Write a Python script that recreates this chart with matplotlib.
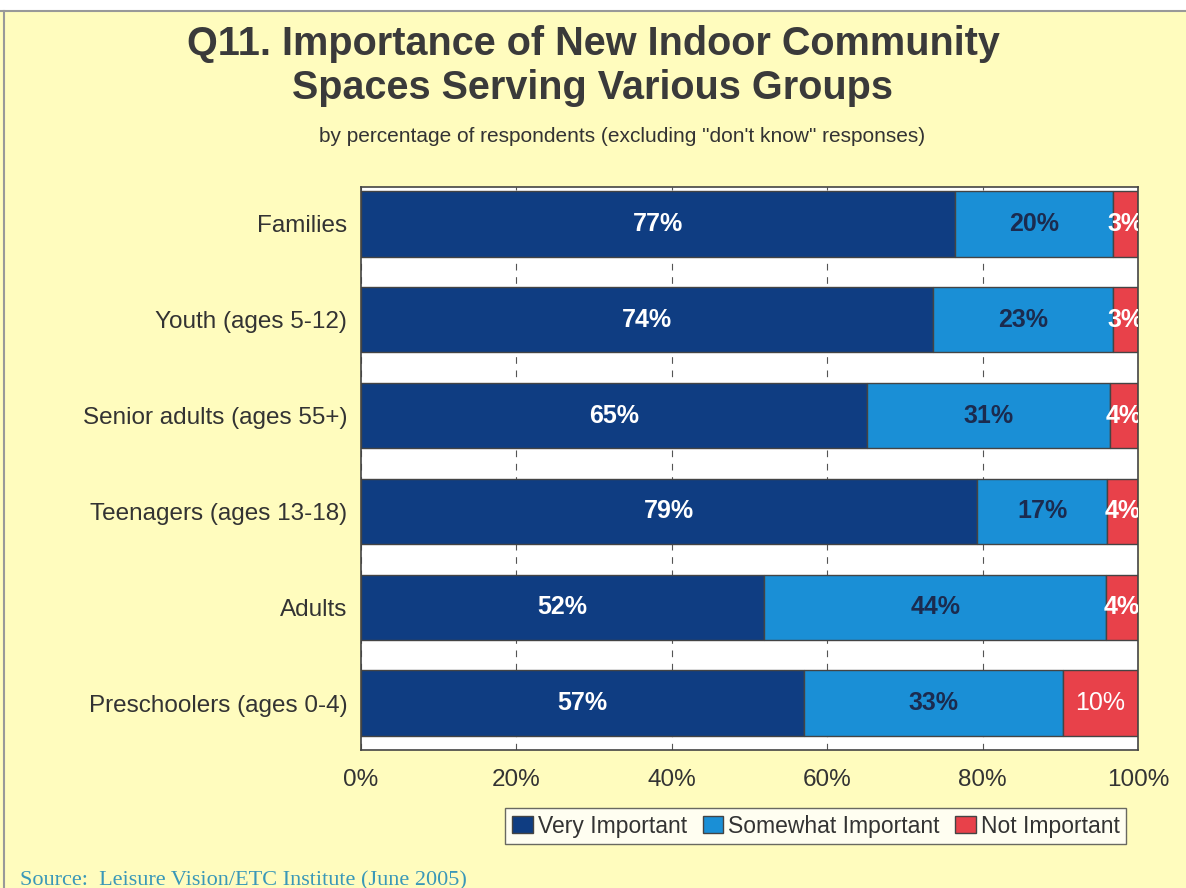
import numpy as np
from matplotlib import pyplot as plt
from matplotlib.patches import Rectangle

# data (percent of respondents)
groups = ['Families', 'Youth (ages 5-12)', 'Senior adults (ages 55+)',
          'Teenagers (ages 13-18)', 'Adults', 'Preschoolers (ages 0-4)']
very = [76.5, 73.6, 65.1, 79.3, 51.9, 57.0]
somewhat = [20.3, 23.2, 31.3, 16.7, 44.0, 33.3]
notimp = [3.2, 3.2, 3.6, 4.0, 4.1, 9.7]
very_lbl = ['77%', '74%', '65%', '79%', '52%', '57%']
some_lbl = ['20%', '23%', '31%', '17%', '44%', '33%']
not_lbl = ['3%', '3%', '4%', '4%', '4%', '10%']
series_names = ['Very Important', 'Somewhat Important', 'Not Important']
colors = ['#0F3D82', '#1A8FD6', '#E8414A']

plt.rcParams['font.family'] = ['Liberation Sans', 'DejaVu Sans']
bg = '#FFFCBE'

fig = plt.figure(figsize=(11.86, 8.88), dpi=100, facecolor=bg)
ax = fig.add_axes([0.3044, 0.1554, 0.6551, 0.634])
ax.set_facecolor('white')

y = np.arange(len(groups))
h = 0.68
ax.barh(y, very, height=h, color=colors[0], edgecolor='#444444', linewidth=1, label=series_names[0])
ax.barh(y, somewhat, left=very, height=h, color=colors[1], edgecolor='#444444', linewidth=1, label=series_names[1])
left2 = np.array(very) + np.array(somewhat)
ax.barh(y, notimp, left=left2, height=h, color=colors[2], edgecolor='#444444', linewidth=1, label=series_names[2])

for i in range(len(groups)):
    ax.text(very[i] / 2, y[i], very_lbl[i], ha='center', va='center', color='white',
            fontsize=18, fontweight='bold')
    ax.text(very[i] + somewhat[i] / 2, y[i], some_lbl[i], ha='center', va='center',
            color='#1B2B4F', fontsize=18, fontweight='bold')
    ax.text(left2[i] + notimp[i] / 2, y[i], not_lbl[i], ha='center', va='center',
            color='white', fontsize=18, fontweight='bold' if notimp[i] < 5 else 'normal',
            clip_on=True)

ax.set_xlim(0, 100)
ax.set_ylim(len(groups) - 1 + 0.49, -0.386)
ax.set_xticks([0, 20, 40, 60, 80, 100])
ax.set_xticklabels(['0%', '20%', '40%', '60%', '80%', '100%'], fontsize=17.5, color='#333333')
ax.set_yticks(y)
ax.set_yticklabels(groups, fontsize=17.5, color='#333333')
ax.tick_params(axis='x', length=0, pad=14)
ax.tick_params(axis='y', length=0, pad=10)
ax.xaxis.grid(True, linestyle=(0, (6, 6)), color='#555555', linewidth=0.8)
ax.set_axisbelow(True)
for s in ax.spines.values():
    s.set_color('#444444')
    s.set_linewidth(1.2)

fig.text(0.5, 0.972, 'Q11. Importance of New Indoor Community\nSpaces Serving Various Groups',
         ha='center', va='top', fontsize=28.5, fontweight='bold', color='#3A3A3A',
         linespacing=1.2)
fig.text(0.5245, 0.846, 'by percentage of respondents (excluding "don\'t know" responses)',
         ha='center', va='center', fontsize=15, color='#333333')

leg = fig.legend(loc='center', bbox_to_anchor=(0.688, 0.0698), ncol=3, fontsize=16.5,
                 frameon=True, fancybox=False, edgecolor='#444444', handlelength=0.9,
                 handleheight=0.8, handletextpad=0.2, columnspacing=0.7, borderpad=0.3)
leg.get_frame().set_linewidth(1)
for t in leg.get_texts():
    t.set_color('#333333')

fig.text(0.017, 0.003, 'Source:  Leisure Vision/ETC Institute (June 2005)', ha='left', va='baseline',
         fontsize=16, color='#3A98B8', family='Liberation Serif')

# frame line at top and left like the scanned page
fig.add_artist(Rectangle((0, 0.988), 1, 0.012, transform=fig.transFigure, facecolor='white',
                         edgecolor='none'))
fig.add_artist(plt.Line2D([0, 1], [0.988, 0.988], transform=fig.transFigure, color='#999999', lw=1.5))
fig.add_artist(plt.Line2D([0.003, 0.003], [0, 0.988], transform=fig.transFigure, color='#999999', lw=1.5))

fig.savefig('out.png', dpi=100, facecolor=bg)
